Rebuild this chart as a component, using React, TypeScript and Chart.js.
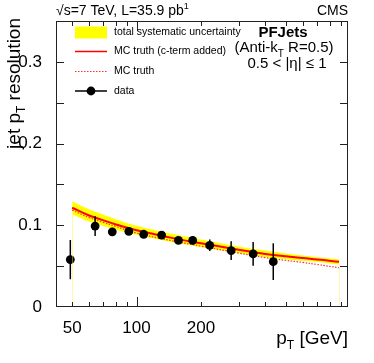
import React, { useEffect, useRef } from "react";
import { Chart, registerables } from "chart.js";

Chart.register(...registerables);

// ---- data ----
const DATA_PT = [49, 64, 77, 92, 108, 131, 157, 183, 220, 277, 351, 436];
const DATA_RES = [0.058, 0.099, 0.092, 0.0925, 0.089, 0.088, 0.0815, 0.0815, 0.0755, 0.069, 0.065, 0.0555];
const DATA_ERR = [0.024, 0.012, 0.005, 0.004, 0.003, 0.003, 0.004, 0.005, 0.007, 0.0115, 0.0145, 0.0225];

const CURVE_PT = [50, 60, 70, 80, 100, 150, 200, 300, 400, 500, 600, 700, 885];
const MC_CTERM = [0.1215, 0.112, 0.106, 0.101, 0.094, 0.084, 0.078, 0.070, 0.065, 0.062, 0.060, 0.058, 0.0555];
const MC_TRUTH = [0.1185, 0.1095, 0.1035, 0.0985, 0.0905, 0.0805, 0.0745, 0.066, 0.0605, 0.057, 0.0545, 0.052, 0.048];
const BAND_HI = [0.1295, 0.1195, 0.113, 0.1075, 0.0995, 0.089, 0.0825, 0.074, 0.069, 0.0655, 0.063, 0.061, 0.0585];
const BAND_LO = [0.1135, 0.1045, 0.099, 0.0945, 0.0885, 0.079, 0.0735, 0.066, 0.061, 0.0585, 0.0565, 0.055, 0.052];

const X_LABEL_VALUES = [50, 100, 200];
const X_LABELS = ["50", "100", "200"];
const X_MINOR = [50, 60, 70, 80, 90, 200, 300, 400, 500, 600, 700, 800, 900];
const X_MAJOR = [100];
const Y_LABEL_VALUES = [0, 0.1, 0.2, 0.3];
const Y_LABELS = ["0", "0.1", "0.2", "0.3"];
const Y_TICK_MARKS = [0.05, 0.1, 0.15, 0.2, 0.25, 0.3];

const LEGEND_LABELS = ["total systematic uncertainty", "MC truth (c-term added)", "MC truth", "data"];

const FONT = "'Liberation Sans', Arial, Helvetica, sans-serif";

type Seg = { t: string; size: number; dy?: number; bold?: boolean };

function segWidth(ctx: CanvasRenderingContext2D, segs: Seg[]) {
  let w = 0;
  for (const s of segs) {
    ctx.font = `${s.bold ? "bold " : ""}${s.size}px ${FONT}`;
    w += ctx.measureText(s.t).width;
  }
  return w;
}

function drawSegs(ctx: CanvasRenderingContext2D, segs: Seg[], x: number, y: number, align: "left" | "right" | "center") {
  const w = segWidth(ctx, segs);
  let cx = align === "left" ? x : align === "right" ? x - w : x - w / 2;
  ctx.textAlign = "left";
  ctx.textBaseline = "alphabetic";
  for (const s of segs) {
    ctx.font = `${s.bold ? "bold " : ""}${s.size}px ${FONT}`;
    ctx.fillText(s.t, cx, y + (s.dy || 0));
    cx += ctx.measureText(s.t).width;
  }
}

const decorPlugin = {
  id: "decor",
  afterDatasetsDraw(chart: any) {
    const ctx: CanvasRenderingContext2D = chart.ctx;
    const xs = chart.scales.x;
    const ys = chart.scales.y;
    ctx.save();
    // faint vertical edges of band
    ctx.strokeStyle = "rgba(255,240,80,0.45)";
    ctx.lineWidth = 1;
    for (const i of [0, CURVE_PT.length - 1]) {
      const px = Math.round(xs.getPixelForValue(CURVE_PT[i])) + 0.5;
      ctx.beginPath();
      ctx.moveTo(px, ys.getPixelForValue(BAND_LO[i]));
      ctx.lineTo(px, ys.getPixelForValue(0));
      ctx.stroke();
    }
    // error bars
    ctx.strokeStyle = "#000";
    ctx.lineWidth = 1.5;
    DATA_PT.forEach((pt, i) => {
      const px = xs.getPixelForValue(pt);
      ctx.beginPath();
      ctx.moveTo(px, ys.getPixelForValue(DATA_RES[i] - DATA_ERR[i]));
      ctx.lineTo(px, ys.getPixelForValue(DATA_RES[i] + DATA_ERR[i]));
      ctx.stroke();
    });
    ctx.restore();
  },
  afterDraw(chart: any) {
    const ctx: CanvasRenderingContext2D = chart.ctx;
    const { left, right, top, bottom } = chart.chartArea;
    const xs = chart.scales.x;
    const ys = chart.scales.y;
    ctx.save();
    // frame
    ctx.strokeStyle = "#222";
    ctx.lineWidth = 1;
    ctx.strokeRect(left + 0.5, top + 0.5, right - left - 1, bottom - top - 1);
    // y ticks
    ctx.beginPath();
    for (const v of Y_TICK_MARKS) {
      const py = Math.round(ys.getPixelForValue(v)) + 0.5;
      ctx.moveTo(left, py);
      ctx.lineTo(left + 8, py);
      ctx.moveTo(right, py);
      ctx.lineTo(right - 8, py);
    }
    // x ticks
    const xt = (v: number, len: number) => {
      const px = Math.round(xs.getPixelForValue(v)) + 0.5;
      ctx.moveTo(px, bottom);
      ctx.lineTo(px, bottom - len);
      ctx.moveTo(px, top);
      ctx.lineTo(px, top + len);
    };
    X_MINOR.forEach((v) => xt(v, 5));
    X_MAJOR.forEach((v) => xt(v, 10));
    ctx.stroke();

    ctx.fillStyle = "#000";
    // top labels
    drawSegs(ctx, [
      { t: "\u221As=7 TeV, L=35.9 pb", size: 14 },
      { t: "1", size: 9, dy: -6 },
    ], 56, 15, "left");
    drawSegs(ctx, [{ t: "CMS", size: 14 }], 348, 15, "right");

    // axis titles
    drawSegs(ctx, [
      { t: "p", size: 19 },
      { t: "T", size: 12, dy: 5 },
      { t: " [GeV]", size: 19 },
    ], 348, 344, "right");
    ctx.save();
    ctx.translate(20, 18);
    ctx.rotate(-Math.PI / 2);
    drawSegs(ctx, [
      { t: "jet p", size: 19 },
      { t: "T", size: 12, dy: 5 },
      { t: " resolution", size: 19 },
    ], 0, 0, "right");
    ctx.restore();

    // info text
    drawSegs(ctx, [{ t: "PFJets", size: 15, bold: true }], 283, 37, "center");
    drawSegs(ctx, [
      { t: "(Anti-k", size: 15 },
      { t: "T", size: 10, dy: 5 },
      { t: " R=0.5)", size: 15 },
    ], 284, 52, "center");
    drawSegs(ctx, [{ t: "0.5 < |\u03B7| \u2264 1", size: 15 }], 287, 68, "center");

    // legend
    const lx0 = 75, lx1 = 107, tx = 114;
    const rows = [32, 51.5, 71, 91];
    ctx.fillStyle = "#ffff00";
    ctx.fillRect(lx0, 26.5, lx1 - lx0, 12);
    ctx.strokeStyle = "#ff0000";
    ctx.lineWidth = 1.5;
    ctx.beginPath();
    ctx.moveTo(lx0, rows[1]);
    ctx.lineTo(lx1, rows[1]);
    ctx.stroke();
    ctx.strokeStyle = "#ff3030";
    ctx.lineWidth = 1.2;
    ctx.setLineDash([1.5, 1.5]);
    ctx.beginPath();
    ctx.moveTo(lx0, rows[2] + 0.5);
    ctx.lineTo(lx1, rows[2] + 0.5);
    ctx.stroke();
    ctx.setLineDash([]);
    ctx.strokeStyle = "#000";
    ctx.lineWidth = 1.5;
    ctx.beginPath();
    ctx.moveTo(lx0, rows[3]);
    ctx.lineTo(lx1, rows[3]);
    ctx.stroke();
    ctx.fillStyle = "#000";
    ctx.beginPath();
    ctx.arc((lx0 + lx1) / 2, rows[3], 4.4, 0, Math.PI * 2);
    ctx.fill();
    ctx.font = `10.5px ${FONT}`;
    ctx.textAlign = "left";
    ctx.textBaseline = "middle";
    LEGEND_LABELS.forEach((l, i) => ctx.fillText(l, tx, rows[i]));
    ctx.restore();
  },
};

export default function App() {
  const ref = useRef<HTMLCanvasElement>(null);
  useEffect(() => {
    if (!ref.current) return;
    const xy = (xsArr: number[], ysArr: number[]) => xsArr.map((x, i) => ({ x, y: ysArr[i] }));
    const chart = new Chart(ref.current, {
      type: "scatter",
      data: {
        datasets: [
          {
            label: "band_hi",
            data: xy(CURVE_PT, BAND_HI),
            showLine: true,
            borderWidth: 0,
            borderColor: "rgba(0,0,0,0)",
            backgroundColor: "#ffff00",
            pointRadius: 0,
            fill: "+1",
            tension: 0.4,
            order: 10,
          },
          {
            label: "band_lo",
            data: xy(CURVE_PT, BAND_LO),
            showLine: true,
            borderWidth: 0,
            borderColor: "rgba(0,0,0,0)",
            pointRadius: 0,
            fill: false,
            tension: 0.4,
            order: 9,
          },
          {
            label: "MC truth",
            data: xy(CURVE_PT, MC_TRUTH),
            showLine: true,
            borderWidth: 1.2,
            borderColor: "#ff3030",
            borderDash: [1.5, 1.5],
            pointRadius: 0,
            fill: false,
            tension: 0.4,
            order: 6,
          },
          {
            label: "MC truth (c-term added)",
            data: xy(CURVE_PT, MC_CTERM),
            showLine: true,
            borderWidth: 2,
            borderColor: "#ff0000",
            pointRadius: 0,
            fill: false,
            tension: 0.4,
            order: 5,
          },
          {
            label: "data",
            data: xy(DATA_PT, DATA_RES),
            showLine: false,
            pointRadius: 4.4,
            pointBackgroundColor: "#000",
            pointBorderColor: "#000",
            borderWidth: 0,
            order: 1,
          },
        ],
      },
      options: {
        responsive: false,
        animation: false,
        layout: { padding: { left: 0, right: 26, top: 21, bottom: 0 } },
        plugins: { legend: { display: false }, tooltip: { enabled: false }, title: { display: false } },
        scales: {
          x: {
            type: "logarithmic",
            min: 42,
            max: 975,
            grid: { display: false },
            border: { display: false },
            afterBuildTicks: (s: any) => {
              s.ticks = X_LABEL_VALUES.map((v) => ({ value: v }));
            },
            afterFit: (s: any) => {
              s.height = 56;
            },
            ticks: {
              autoSkip: false,
              maxRotation: 0,
              padding: 3,
              color: "#000",
              font: { family: FONT, size: 17 },
              callback: (v: any) => {
                const i = X_LABEL_VALUES.indexOf(Number(v));
                return i >= 0 ? X_LABELS[i] : "";
              },
            },
          },
          y: {
            min: 0,
            max: 0.35,
            grid: { display: false },
            border: { display: false },
            afterBuildTicks: (s: any) => {
              s.ticks = Y_LABEL_VALUES.map((v) => ({ value: v }));
            },
            afterFit: (s: any) => {
              s.width = 56;
            },
            ticks: {
              padding: 6,
              color: "#000",
              font: { family: FONT, size: 17 },
              callback: (v: any) => {
                const i = Y_LABEL_VALUES.findIndex((t) => Math.abs(t - Number(v)) < 1e-9);
                return i >= 0 ? Y_LABELS[i] : "";
              },
            },
          },
        },
      },
      plugins: [decorPlugin],
    } as any);
    return () => chart.destroy();
  }, []);
  return (
    <div style={{ position: "absolute", left: 0, top: 0, width: 374, height: 363, background: "#fff" }}>
      <canvas ref={ref} width={374} height={363} style={{ display: "block" }} />
    </div>
  );
}
